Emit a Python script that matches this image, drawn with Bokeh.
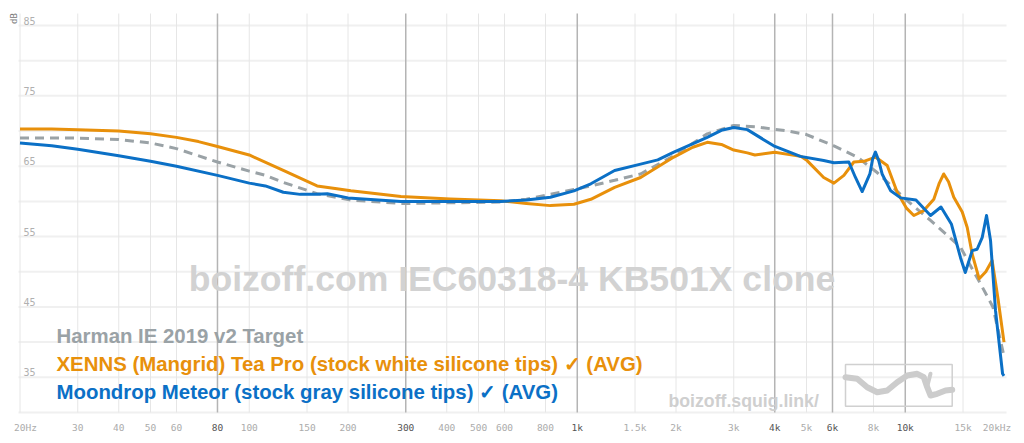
import math
from bokeh.plotting import figure
from bokeh.models import Range1d, Label
from bokeh.core.properties import value
from bokeh.embed import file_html
from bokeh.resources import INLINE

# ---------------- data ----------------
harman_f = [20, 30, 40, 50, 60, 80, 100, 112, 127, 161, 204, 290, 410, 584, 700, 828, 977,
            1100, 1300, 1560, 1970, 2490, 3000, 3500, 4400, 5000, 6060, 7140, 8210, 10140,
            11940, 14740, 15700, 16960, 18500, 20000]
harman_db = [69.0, 69.0, 68.8, 68.3, 67.5, 65.6, 64.3, 63.7, 62.7, 61.1, 60.2, 59.7, 59.8, 59.9,
             60.3, 61.0, 61.7, 62.2, 63.0, 63.9, 66.5, 69.6, 70.8, 70.6, 70.0, 69.5, 67.9, 66.3,
             64.1, 60.1, 57.3, 53.5, 51.1, 48.3, 45.0, 38.0]

xenns_f = [20, 25, 30, 40, 50, 60, 70, 80, 100, 127, 161, 185, 204, 290, 410, 584, 700, 828, 977,
           1100, 1300, 1560, 1970, 2250, 2490, 2750, 3000, 3300, 3480, 4000, 4800, 5020, 5640,
           6060, 6500, 6970, 7480, 8110, 8810, 9450, 10100, 10620, 11390, 12220, 12700, 13100,
           13550, 14060, 14920, 15450, 16000, 16800, 17600, 18400, 19200, 20000]
xenns_db = [70.3, 70.3, 70.2, 70.0, 69.6, 69.1, 68.5, 67.8, 66.6, 64.4, 62.2, 61.8, 61.5, 60.7,
            60.35, 60.1, 59.7, 59.4, 59.6, 60.3, 62.0, 63.4, 66.3, 67.7, 68.4, 68.1, 67.3, 66.9,
            66.6, 67.0, 66.4, 65.8, 63.4, 62.6, 63.7, 65.6, 65.7, 66.3, 65.1, 61.3, 59.0, 58.0,
            58.7, 60.3, 62.6, 63.9, 62.8, 60.6, 58.5, 56.3, 52.5, 49.0, 50.0, 51.6, 46.0, 40.0]

meteor_f = [20, 25, 30, 40, 50, 60, 80, 100, 112, 127, 143, 160, 173, 200, 290, 410, 584, 700,
            828, 977, 1100, 1300, 1560, 1760, 1970, 2490, 2750, 3000, 3300, 3970, 4790, 5640,
            6060, 6730, 7050, 7390, 7800, 7950, 8110, 8300, 8500, 9030, 9680, 10780, 11940,
            12850, 13820, 14740, 15240, 16000, 16560, 17170, 17690, 18200, 18840, 19800, 20000]
meteor_db = [68.3, 67.9, 67.4, 66.5, 65.7, 65.0, 63.7, 62.6, 62.2, 61.3, 61.0, 61.0, 61.1, 60.5,
             60.0, 60.0, 60.0, 60.2, 60.6, 61.5, 62.5, 64.4, 65.3, 65.9, 67.0, 69.1, 70.1, 70.5,
             70.2, 67.9, 66.4, 65.8, 65.5, 65.6, 63.4, 61.4, 63.9, 66.0, 67.0, 65.8, 63.9, 61.5,
             60.5, 60.2, 58.0, 59.2, 56.8, 52.0, 49.9, 53.0, 53.2, 54.9, 58.0, 54.4, 44.5, 35.5,
             35.2]

light_ticks = [30, 40, 50, 60, 100, 150, 200, 400, 500, 600, 800, 1500, 2000, 3000, 5000, 8000, 15000]
light_labels = ["30", "40", "50", "60", "100", "150", "200", "400", "500", "600", "800",
                "1.5k", "2k", "3k", "5k", "8k", "15k"]
dark_ticks = [80, 300, 1000, 4000, 6000, 10000]
dark_labels = ["80", "300", "1k", "4k", "6k", "10k"]
end_ticks = [20, 20000]
end_labels = ["20Hz", "20kHz"]
y_grid = [30, 35, 40, 45, 50, 55, 60, 65, 70, 75, 80, 85]
y_ticks = [85, 75, 65, 55, 45, 35]
y_labels = ["85", "75", "65", "55", "45", "35"]

legend_names = ["Harman IE 2019 v2 Target",
                "XENNS (Mangrid) Tea Pro (stock white silicone tips) \u2713 (AVG)",
                "Moondrop Meteor (stock gray silicone tips) \u2713 (AVG)"]

# ---------------- styling / layout ----------------
C_GRAY = "#9aa2a6"
C_ORANGE = "#e8900b"
C_BLUE = "#0b70c6"
MONO = "DejaVu Sans Mono"
SANS = "Liberation Sans"

W, H = 1024, 443
PX_DEC = 328.0      # px per decade
PX_20 = 19.5        # px position of 20 Hz
PX_DB = 7.036       # px per dB
PY_85 = 25.0        # px position of 85 dB


def hz_at(px):
    return 20 * 10 ** ((px - PX_20) / PX_DEC)


def db_at(py):
    return 85 - (py - PY_85) / PX_DB


p = figure(width=W, height=H, x_axis_type="log", output_backend="svg",
           toolbar_location=None, x_range=Range1d(hz_at(0), hz_at(W)),
           y_range=Range1d(db_at(H), db_at(0)),
           min_border_left=0, min_border_right=0, min_border_top=0, min_border_bottom=0)
p.xaxis.visible = False
p.yaxis.visible = False
p.xgrid.visible = False
p.ygrid.visible = False
p.title.visible = False
p.outline_line_color = None
p.background_fill_color = "white"
p.border_fill_color = "white"

G_LEFT, G_RIGHT = hz_at(18), hz_at(1006)
G_BOT, G_TOP = 30.0, db_at(13)

# grid lines (from tick arrays)
p.segment(x0=G_LEFT, x1=G_RIGHT, y0=y_grid, y1=y_grid, line_color="#f0f0f0", line_width=2)
p.segment(x0=light_ticks, x1=light_ticks, y0=G_BOT, y1=G_TOP, line_color="#e6e6e6", line_width=1)
p.segment(x0=end_ticks[:1], x1=end_ticks[:1], y0=G_BOT, y1=G_TOP, line_color="#e6e6e6", line_width=1)
p.segment(x0=dark_ticks, x1=dark_ticks, y0=G_BOT, y1=G_TOP, line_color="#b4b4b4", line_width=1.5)

# watermark
p.add_layout(Label(x=hz_at(511.5), y=db_at(278.3), text="boizoff.com IEC60318-4 KB501X clone",
                   text_align="center", text_baseline="alphabetic", text_font=SANS,
                   text_font_style="bold", text_font_size="35.6px", text_color="#d2d2d2"))

# logo
p.add_layout(Label(x=hz_at(668), y=db_at(400), text="boizoff.squig.link/",
                   text_align="left", text_baseline="alphabetic", text_font=SANS,
                   text_font_style="bold", text_font_size="17.7px", text_color="#cfcfcf"))
bx0, bx1, by0, by1 = 845, 951.7, 364, 405.7
p.quad(left=[hz_at(bx0)], right=[hz_at(bx1)], top=[db_at(by0)], bottom=[db_at(by1)],
       fill_color=None, line_color="#d0d0d0", line_width=1.5)
sq_x = [845, 856.7, 866.7, 876.7, 886.7, 896.7, 906.7, 916.7, 923.3, 926.7, 930, 936.7, 945, 951.7]
sq_y = [376.7, 378.3, 386.7, 391.7, 390, 381.7, 375, 373.3, 376.7, 386.7, 395, 393.3, 390, 389.3]
p.line([hz_at(v) for v in sq_x], [db_at(v) for v in sq_y], line_color="#cccccc",
       line_width=6, line_cap="round", line_join="round")
p.line([hz_at(930), hz_at(926.7)], [db_at(373.3), db_at(386)], line_color="#cccccc",
       line_width=4, line_cap="round")

# curves
p.line(harman_f, harman_db, line_color=C_GRAY, line_width=3, line_dash="9 6")
p.line(xenns_f, xenns_db, line_color=C_ORANGE, line_width=3, line_join="round")
p.line(meteor_f, meteor_db, line_color=C_BLUE, line_width=3, line_join="round")

# x tick labels
LAB_Y = db_at(427)
p.text(x=light_ticks, y=[LAB_Y] * len(light_ticks), text=light_labels, text_align="center",
       text_baseline="middle", text_font=value(MONO), text_font_size="9.5px", text_color="#ababab")
p.text(x=dark_ticks, y=[LAB_Y] * len(dark_ticks), text=dark_labels, text_align="center",
       text_baseline="middle", text_font=value(MONO), text_font_size="9.5px", text_color="#555555")
p.text(x=end_ticks, y=[LAB_Y] * 2, text=end_labels, x_offset=[5.5, -7], text_align="center",
       text_baseline="middle", text_font=value(MONO), text_font_size="9.5px", text_color="#ababab")

# y tick labels
p.text(x=[hz_at(23)] * len(y_ticks), y=y_ticks, text=y_labels, y_offset=-1, text_align="left",
       text_baseline="bottom", text_font=value(MONO), text_font_size="10px", text_color="#b0b0b0")
p.text(x=[hz_at(13)], y=[db_at(18)], text=["dB"], angle=math.pi / 2, text_align="center",
       text_baseline="middle", text_font=value(MONO), text_font_size="9px", text_color="#777777")

# legend texts
for name, col, py in zip(legend_names, [C_GRAY, C_ORANGE, C_BLUE], [335, 363.3, 391.7]):
    p.add_layout(Label(x=hz_at(56), y=db_at(py), text=name, text_align="left",
                       text_baseline="middle", text_font=SANS, text_font_style="bold",
                       text_font_size="20.4px", text_color=col))

open("out.html", "w").write(file_html(p, INLINE))
